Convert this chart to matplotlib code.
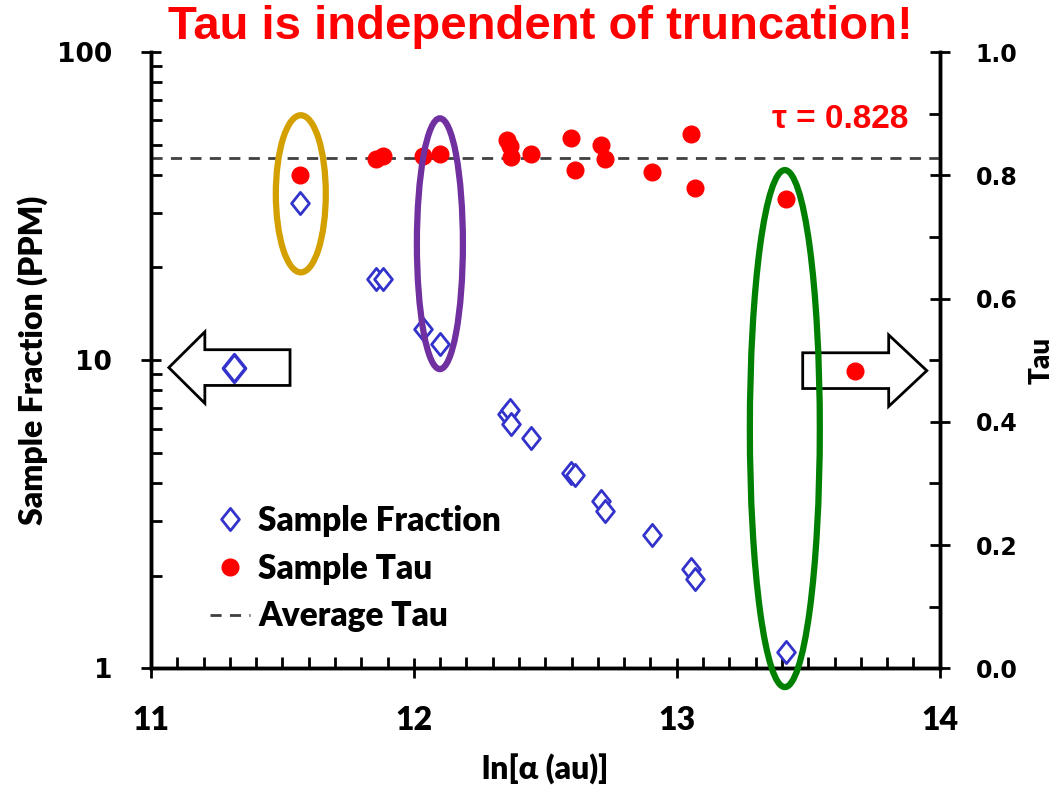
import matplotlib
matplotlib.use("Agg")
import matplotlib.pyplot as plt
from matplotlib.patches import Ellipse, Polygon
from matplotlib.lines import Line2D
from matplotlib.path import Path
from matplotlib import font_manager

# sample data
ln_alpha = [11.568, 11.857, 11.884, 12.036, 12.101, 12.355, 12.367, 12.371, 12.446,
            12.599, 12.611, 12.711, 12.726, 12.905, 13.053, 13.070, 13.414]
fraction_ppm = [32.4, 18.3, 18.3, 12.6, 11.3, 6.7, 6.9, 6.2, 5.6,
                4.3, 4.25, 3.5, 3.25, 2.7, 2.1, 1.95, 1.13]
sample_tau = [0.800, 0.827, 0.831, 0.831, 0.835, 0.857, 0.847, 0.830, 0.834,
              0.861, 0.808, 0.850, 0.827, 0.805, 0.867, 0.780, 0.762]
avg_tau = 0.828

# symbols shown inside the axis arrows
arrow_fraction_pt = (11.315, 9.4)
arrow_tau_pt = (13.677, 0.483)

names = {f.name for f in font_manager.fontManager.ttflist}
narrow = "Liberation Sans Narrow" if "Liberation Sans Narrow" in names else "Liberation Sans"
calib = "Lato"
verd = "DejaVu Sans"
heavy = 800

blue = "#3333cc"
red = "#ff0000"

diamond = Path([(0, 1), (0.8, 0), (0, -1), (-0.8, 0), (0, 1)],
               [Path.MOVETO, Path.LINETO, Path.LINETO, Path.LINETO, Path.CLOSEPOLY])

fig = plt.figure(figsize=(10.63, 7.89), dpi=100)
ax = fig.add_axes([0.142, 0.153, 0.742, 0.781])
ax2 = ax.twinx()

ax.set_yscale("log")
ax.set_xlim(11, 14)
ax.set_ylim(1, 100)
ax2.set_ylim(0, 1.0)

ax.plot(ln_alpha, fraction_ppm, linestyle="none", marker=diamond, markersize=16,
        markerfacecolor="white", markeredgecolor=blue, markeredgewidth=2, zorder=3)
ax2.plot(ln_alpha, sample_tau, linestyle="none", marker="o", markersize=12,
         color=red, zorder=3)
ax2.axhline(avg_tau, color="#404040", linestyle=(0, (4, 3)), linewidth=2, zorder=2)

# arrows pointing at each axis
def arrow(ax_, x0, x1, yc, body, head, head_len):
    d = 1 if x1 > x0 else -1
    xb = x1 - d * head_len
    pts = [(x0, yc - body), (xb, yc - body), (xb, yc - head), (x1, yc),
           (xb, yc + head), (xb, yc + body), (x0, yc + body)]
    ax_.add_patch(Polygon(pts, closed=True, facecolor="white", edgecolor="black",
                          linewidth=2, zorder=4))

arrow(ax2, 11.529, 11.068, 0.488, 0.029, 0.058, 0.137)
arrow(ax2, 13.479, 13.951, 0.483, 0.029, 0.058, 0.145)
# the fraction symbol sits on top of the arrow, so map it onto ax2
fx, fy = ax2.transData.inverted().transform(ax.transData.transform(arrow_fraction_pt))
ax2.plot(fx, fy, linestyle="none", marker=diamond, markersize=20,
         markerfacecolor="white", markeredgecolor=blue, markeredgewidth=2.5, zorder=5)
ax2.plot(*arrow_tau_pt, linestyle="none", marker="o", markersize=12, color=red, zorder=5)

# highlight ellipses
for xc, yc, w, h, c in [(11.570, 0.770, 0.19, 0.255, "#d4a000"),
                        (12.099, 0.689, 0.175, 0.407, "#7030a0"),
                        (13.411, 0.389, 0.266, 0.839, "#008000")]:
    ax2.add_patch(Ellipse((xc, yc), w, h, fill=False, edgecolor=c, linewidth=4.5, zorder=6,
                          clip_on=False))

# ticks
ax.set_xticks([11, 12, 13, 14])
ax.set_xticks([11 + i * 0.1 for i in range(31)], minor=True)
ax.set_yticks([1, 10, 100])
ax.set_yticklabels(["1", "10", "100"])
ax2.set_yticks([0, 0.2, 0.4, 0.6, 0.8, 1.0])
ax2.set_yticklabels(["0.0", "0.2", "0.4", "0.6", "0.8", "1.0"])
ax2.set_yticks([i * 0.1 for i in range(11)], minor=True)

for a in (ax, ax2):
    a.tick_params(which="major", direction="inout", length=14, width=2)
    a.tick_params(which="minor", direction="in", length=8, width=2)
    a.spines["top"].set_visible(False)
    for s in a.spines.values():
        s.set_linewidth(2.5)
ax.tick_params(axis="x", which="major", pad=20)
ax.tick_params(axis="y", which="major", pad=21)
ax2.tick_params(axis="y", which="major", pad=19)

for lab in ax.get_xticklabels():
    lab.set_fontfamily(calib); lab.set_fontweight(heavy); lab.set_fontsize(23)
for lab in ax.get_yticklabels():
    lab.set_fontfamily(verd); lab.set_fontweight("bold"); lab.set_fontsize(19)
for lab in ax2.get_yticklabels():
    lab.set_fontfamily(verd); lab.set_fontweight("bold"); lab.set_fontsize(17)

ax.set_xlabel("ln[\u03b1 (au)]", fontfamily=calib, fontweight=heavy, fontsize=23, labelpad=14)
ax.set_ylabel("Sample Fraction (PPM)", fontfamily=calib, fontweight=heavy, fontsize=23, labelpad=6)
ax2.set_ylabel("Tau", fontfamily=calib, fontweight=heavy, fontsize=20, labelpad=8)

fig.text(0.508, 0.966, "Tau is independent of truncation!", color=red, fontfamily=narrow,
         fontweight="bold", fontsize=34, ha="center", va="center")
ax2.text(13.88, 0.890, "\u03c4 = 0.828", color=red, fontfamily=narrow, fontweight="bold",
         fontsize=24, ha="right", va="center")

handles = [
    Line2D([], [], linestyle="none", marker=diamond, markersize=16, markerfacecolor="white",
           markeredgecolor=blue, markeredgewidth=2),
    Line2D([], [], linestyle="none", marker="o", markersize=12, color=red),
    Line2D([], [], color="#404040", linestyle=(0, (4, 3)), linewidth=2),
]
leg = ax2.legend(handles, ["Sample Fraction", "Sample Tau", "Average Tau"], loc="upper left",
                 bbox_to_anchor=(0.1976, 0.360), bbox_transform=fig.transFigure,
                 frameon=False, borderpad=0, borderaxespad=0, handlelength=1.2,
                 handletextpad=0.25, labelspacing=0.47,
                 prop={"family": calib, "weight": heavy, "size": 24})

plt.savefig("out.png", dpi=100)
